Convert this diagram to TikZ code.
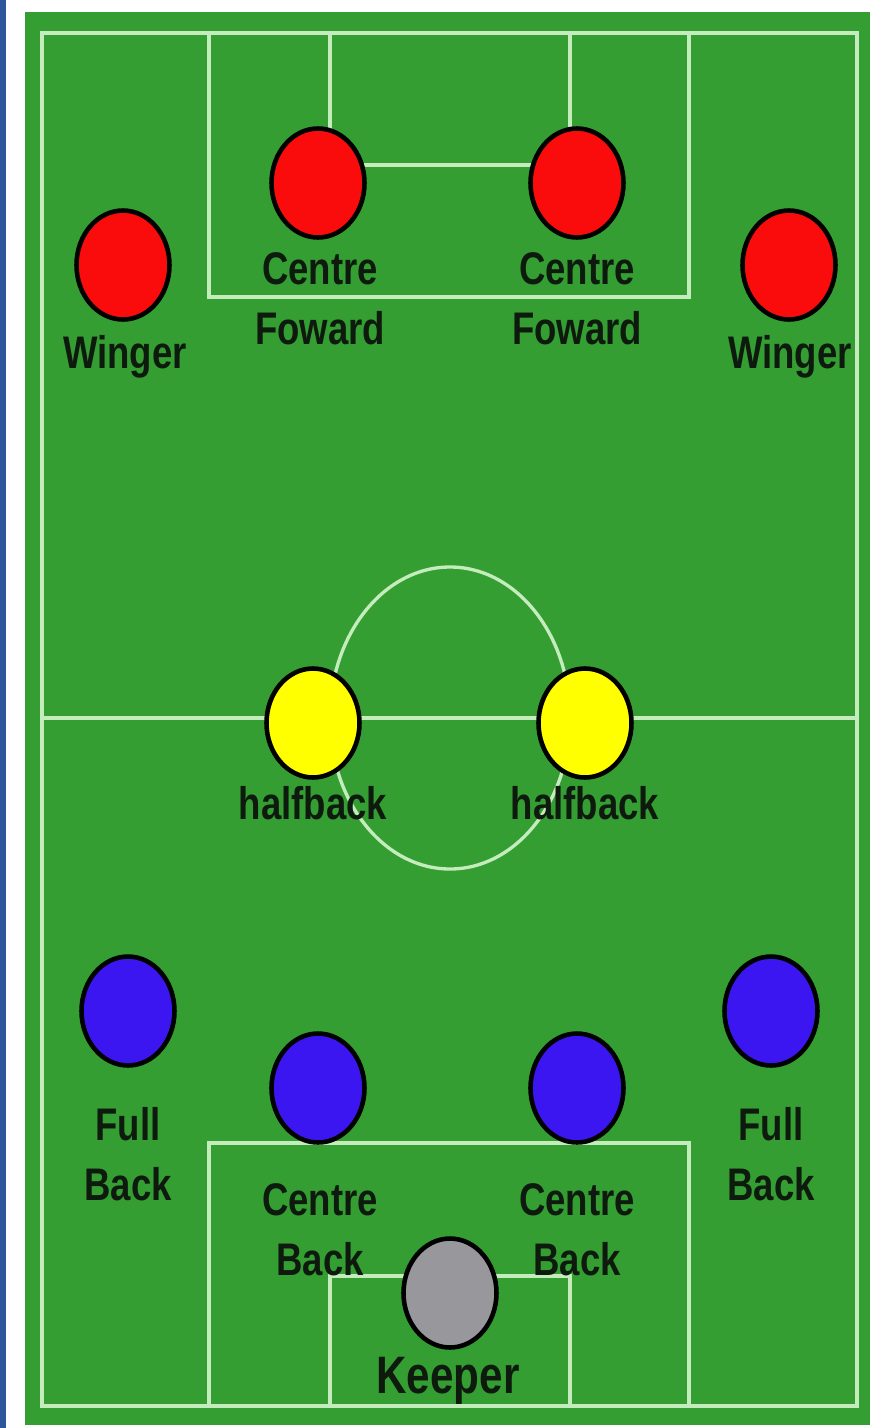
\documentclass[tikz,border=0pt]{standalone}
\usepackage{fontspec}
\usetikzlibrary{shapes.geometric}
\newfontfamily\labelfont[FakeStretch=0.8]{Liberation Sans}
\definecolor{pitch}{RGB}{52,158,50}
\definecolor{chalk}{RGB}{196,236,188}
\definecolor{strip}{RGB}{46,86,155}
\definecolor{attack}{RGB}{250,12,12}
\definecolor{middle}{RGB}{255,255,0}
\definecolor{defence}{RGB}{60,22,240}
\definecolor{keeper}{RGB}{152,152,156}
\definecolor{ink}{RGB}{14,26,14}
\begin{document}
\begin{tikzpicture}[
            x=0.02cm, y=-0.02cm,
            line/.style={
                draw=chalk,
                line width=1.9pt
            },
            player/.style={
                ellipse,
                draw=black,
                line width=2.6pt,
                minimum width=1.86cm,
                minimum height=2.18cm,
                inner sep=0pt
            },
            tag/.style={
                anchor=base,
                text=ink,
                inner sep=0pt,
                align=center,
                font=\labelfont\bfseries\fontsize{26}{34}\selectfont
            }
        ]

            \useasboundingbox (0, 0) rectangle (876, 1428);
            \fill[white] (0, 0) rectangle (876, 1428);
            \fill[strip] (0, 0) rectangle (6, 1428);
            \fill[pitch] (25, 12) rectangle (870, 1425);

            % pitch markings
            \draw[line] (42, 33) rectangle (857, 1406);
            \draw[line] (42, 718) -- (857, 718);
            \draw[line] (450, 718) ellipse [x radius=120, y radius=151];
            \draw[line] (209, 33) rectangle (689, 297);
            \draw[line] (330, 33) rectangle (570, 165);
            \draw[line] (209, 1406) rectangle (689, 1143);
            \draw[line] (330, 1406) rectangle (570, 1276);

            % forwards
            \node[player, fill=attack] (lw) at (123, 265) {};
            \node[player, fill=attack] (lcf) at (318, 183) {};
            \node[player, fill=attack] (rcf) at (577, 183) {};
            \node[player, fill=attack] (rw) at (789, 265) {};

            % halfbacks
            \node[player, fill=middle] (lhb) at (313, 723) {};
            \node[player, fill=middle] (rhb) at (585, 723) {};

            % backs
            \node[player, fill=defence] (lfb) at (128, 1011) {};
            \node[player, fill=defence] (rfb) at (771, 1011) {};
            \node[player, fill=defence] (lcb) at (318, 1088) {};
            \node[player, fill=defence] (rcb) at (577, 1088) {};
            \node[player, fill=keeper] (gk) at (450, 1293) {};

            % names (base = last line)
            \node[tag] (lwname) at (125, 368) {Winger};
            \node[tag] (rwname) at (790, 368) {Winger};
            \node[tag] (lcfname) at (320, 344) {Centre\\Foward};
            \node[tag] (rcfname) at (577, 344) {Centre\\Foward};
            \node[tag] (lhbname) at (313, 819) {halfback};
            \node[tag] (rhbname) at (585, 819) {halfback};
            \node[tag] (lfbname) at (128, 1200) {Full\\Back};
            \node[tag] (rfbname) at (771, 1200) {Full\\Back};
            \node[tag] (lcbname) at (320, 1275) {Centre\\Back};
            \node[tag] (rcbname) at (577, 1275) {Centre\\Back};
            \node[tag, font=\labelfont\bfseries\fontsize{30}{36}\selectfont]
                (gkname) at (448, 1393) {Keeper};

        \end{tikzpicture}
\end{document}
